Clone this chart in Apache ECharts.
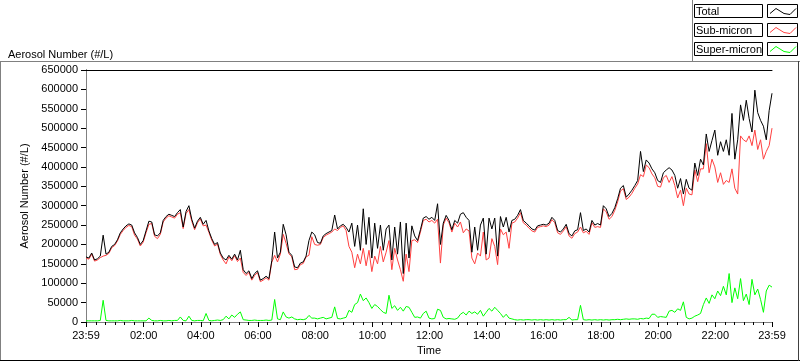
<!DOCTYPE html>
<html>
<head>
<meta charset="utf-8">
<script src="https://cdn.jsdelivr.net/npm/echarts@6.0.0/dist/echarts.min.js"></script>
<style>
html,body{margin:0;padding:0;background:#fff;}
#chart{width:800px;height:361px;}
</style>
</head>
<body>
<div id="chart"></div>
<script>
// Sample step of the read-off series (minutes after 23:59 start)
const STEP_MIN = 6;

// Total aerosol number, thousands #/L (every 6 minutes)
const totalK = [
 168,165,178,160,163,170,224,175,180,195,
 200,212,230,240,248,253,250,230,218,200,
 210,235,260,258,225,222,230,262,272,278,
 275,272,282,290,245,285,300,265,242,260,
 270,252,262,235,215,200,205,178,165,160,
 172,162,175,160,185,135,125,132,112,125,
 132,108,112,118,112,158,232,165,180,252,
 225,180,172,142,140,152,155,170,210,232,
 225,205,203,222,228,232,236,276,240,248,
 252,244,232,255,195,250,185,292,200,270,
 165,255,190,250,185,240,250,160,245,175,
 258,125,255,165,248,222,210,238,268,272,
 265,270,262,305,200,255,275,262,238,262,
 255,278,282,270,262,180,245,185,250,268,
 175,268,240,268,170,272,245,270,232,262,
 265,275,290,262,255,248,240,237,248,250,
 252,250,255,270,262,236,232,240,252,228,
 222,235,238,282,236,240,232,262,250,254,
 250,300,292,272,280,295,318,345,352,322,
 330,340,352,365,440,388,418,410,395,385,
 365,360,385,392,398,392,378,345,370,330,
 368,345,340,410,378,420,405,485,440,468,
 495,430,465,440,470,430,538,420,470,560,
 520,572,525,490,598,540,520,505,470,545,
 590
];

// Sub-micron, thousands #/L
const subK = [
 165,162,175,157,160,166,170,172,177,192,
 197,209,226,236,244,249,246,224,214,196,
 206,230,252,254,221,215,226,258,268,274,
 271,268,278,282,241,280,290,260,238,256,
 266,248,250,231,211,196,201,174,160,150,
 168,158,171,156,165,128,120,128,108,120,
 128,104,108,114,108,154,172,155,175,226,
 203,176,168,135,136,148,151,168,172,220,
 200,198,200,218,224,228,232,240,236,244,
 248,236,195,180,140,175,150,190,145,185,
 130,170,150,195,155,180,210,135,190,160,
 135,105,175,130,210,212,205,232,262,265,
 258,262,255,265,152,250,268,256,232,255,
 245,258,230,240,235,165,150,178,170,232,
 160,165,215,195,148,240,225,232,190,255,
 258,268,282,256,250,242,235,232,244,246,
 248,246,250,264,256,230,226,235,246,222,
 216,228,232,245,230,234,226,256,244,246,
 244,292,284,265,272,288,310,338,344,316,
 322,332,345,356,380,375,405,398,382,372,
 350,348,372,378,360,375,352,320,340,300,
 345,330,328,392,362,395,395,460,385,420,
 400,360,385,355,365,360,395,345,330,480,
 470,465,480,455,495,445,470,420,440,455,
 500
];

// Super-micron, thousands #/L
const superK = [
 3,3,3,3,3,4,56,4,3,3,
 3,3,4,3,3,3,4,3,3,3,
 3,3,10,4,3,3,4,3,3,4,
 3,4,4,13,4,3,15,4,3,4,
 4,3,22,4,3,4,5,4,6,15,
 8,18,12,20,26,6,5,4,4,5,
 4,4,4,5,4,5,58,8,6,26,
 13,10,13,8,6,7,6,8,17,10,
 10,8,10,12,8,10,12,39,9,8,
 10,12,30,25,45,50,72,55,62,50,
 35,45,40,32,25,22,69,35,42,30,
 38,28,40,38,25,12,13,10,22,28,
 10,8,9,33,30,12,8,9,8,7,
 10,20,25,18,28,22,26,20,30,15,
 25,35,28,38,30,22,12,20,10,8,
 6,5,6,5,6,6,5,6,5,6,
 5,6,5,6,5,6,5,6,6,12,
 5,6,6,43,6,5,6,5,6,5,
 6,5,6,5,6,6,7,6,7,8,
 7,8,8,7,9,8,10,9,20,20,
 12,14,13,12,28,30,25,34,30,52,
 12,8,10,15,18,22,45,62,48,70,
 60,80,68,92,70,125,50,88,60,112,
 55,72,45,110,70,85,58,25,80,95,
 90
];

// Axis tick/label positions (minutes after the 23:59 start)
const xLabelMinutes = [0,121,241,361,481,601,721,841,961,1081,1201,1321,1440];
const xMinorMinutes = [];
for (let m = 21; m < 1440; m += 20) { if (xLabelMinutes.indexOf(m) < 0) xMinorMinutes.push(m); }
const legendNames = ['Total','Sub-micron','Super-micron'];
const seriesColors = ['#000000','#ff4040','#00ff00'];

const times = totalK.map((_, i) => i * STEP_MIN);
const toPairs = arr => arr.map((v, i) => [times[i], v * 1000]);

function fmtTime(v) {
  if (v <= 0 || v >= 1440) return '23:59';
  const m = v - 1;
  const hh = Math.floor(m / 60), mm = m % 60;
  return (hh < 10 ? '0' : '') + hh + ':' + (mm < 10 ? '0' : '') + mm;
}

const FONT = 'Liberation Sans';
const chart = echarts.init(document.getElementById('chart'), null, {renderer:'canvas'});

// Legend drawn as LabVIEW-style boxes
const legendGraphics = [];
legendNames.forEach((name, i) => {
  const y = 4.5 + 19 * i;
  legendGraphics.push({type:'rect', shape:{x:694.5, y:y, width:68, height:13}, style:{fill:'#fff', stroke:'#000', lineWidth:1}});
  legendGraphics.push({type:'text', x:696, y:y + 7, style:{text:name, fill:'#000', font:'11px "' + FONT + '"', textVerticalAlign:'middle'}});
  legendGraphics.push({type:'rect', shape:{x:767.5, y:y, width:30, height:13}, style:{fill:'#fff', stroke:'#000', lineWidth:1}});
  legendGraphics.push({type:'polyline', shape:{points:[[770,y+9],[776,y+4],[784,y+9],[790,y+10],[796,y+4]]}, style:{stroke:seriesColors[i], lineWidth:1, fill:null}});
});

const frameGraphics = [
  {type:'line', shape:{x1:0, y1:61.5, x2:800, y2:61.5}, style:{stroke:'#808080', lineWidth:1}},
  {type:'line', shape:{x1:692.5, y1:0, x2:692.5, y2:61}, style:{stroke:'#808080', lineWidth:1}},
  {type:'line', shape:{x1:0.5, y1:61, x2:0.5, y2:361}, style:{stroke:'#808080', lineWidth:1}},
  {type:'line', shape:{x1:0, y1:360.5, x2:800, y2:360.5}, style:{stroke:'#000', lineWidth:1}},
  {type:'line', shape:{x1:798.5, y1:61, x2:798.5, y2:361}, style:{stroke:'#404040', lineWidth:1}}
];

const baseX = {type:'value', min:0, max:1440, splitLine:{show:false}};

chart.setOption({
  animation:false,
  backgroundColor:'#fff',
  title:{text:'Aerosol Number (#/L)', left:3, top:44, textStyle:{fontFamily:FONT, fontSize:11, fontWeight:'normal', color:'#000'}},
  grid:{left:86, top:70, right:28, bottom:39, containLabel:false, outerBoundsMode:'none'},
  xAxis:[
    Object.assign({}, baseX, {
      position:'bottom', name:'Time', nameLocation:'middle', nameGap:23,
      nameTextStyle:{fontFamily:FONT, fontSize:11, color:'#000'},
      axisLine:{show:true, lineStyle:{color:'#808080', width:1}},
      axisTick:{show:true, length:5, customValues:xLabelMinutes, lineStyle:{color:'#000'}},
      axisLabel:{show:true, customValues:xLabelMinutes, formatter:fmtTime, margin:8, fontFamily:FONT, fontSize:11, color:'#000'}
    }),
    Object.assign({}, baseX, {
      position:'bottom',
      axisLine:{show:false},
      axisTick:{show:true, length:3, customValues:xMinorMinutes, lineStyle:{color:'#000'}},
      axisLabel:{show:false}
    }),
    Object.assign({}, baseX, {
      position:'top',
      axisLine:{show:true, lineStyle:{color:'#000', width:1}},
      axisTick:{show:false}, axisLabel:{show:false}
    })
  ],
  yAxis:[
    {type:'value', min:0, max:650000, interval:50000, position:'left',
     name:'Aerosol Number (#/L)', nameLocation:'middle', nameGap:40,
     nameTextStyle:{fontFamily:FONT, fontSize:11, color:'#000'},
     axisLine:{show:true, lineStyle:{color:'#000', width:1}},
     axisTick:{show:true, length:5, lineStyle:{color:'#000'}},
     axisLabel:{formatter:v => String(v), margin:8, fontFamily:FONT, fontSize:11, color:'#000'},
     splitLine:{show:false}},
    {type:'value', min:0, max:650000, interval:50000, position:'right',
     axisLine:{show:true, lineStyle:{color:'#808080', width:1}},
     axisTick:{show:false}, axisLabel:{show:false}, splitLine:{show:false}}
  ],
  series:[
    {name:legendNames[2], type:'line', xAxisIndex:0, yAxisIndex:0, data:toPairs(superK), showSymbol:false, symbol:'none', lineStyle:{color:seriesColors[2], width:1}, itemStyle:{color:seriesColors[2]}, z:2},
    {name:legendNames[1], type:'line', xAxisIndex:0, yAxisIndex:0, data:toPairs(subK), showSymbol:false, symbol:'none', lineStyle:{color:seriesColors[1], width:1}, itemStyle:{color:seriesColors[1]}, z:3},
    {name:legendNames[0], type:'line', xAxisIndex:0, yAxisIndex:0, data:toPairs(totalK), showSymbol:false, symbol:'none', lineStyle:{color:seriesColors[0], width:1}, itemStyle:{color:seriesColors[0]}, z:4}
  ],
  graphic:{elements: frameGraphics.concat(legendGraphics)}
});
</script>
</body>
</html>
